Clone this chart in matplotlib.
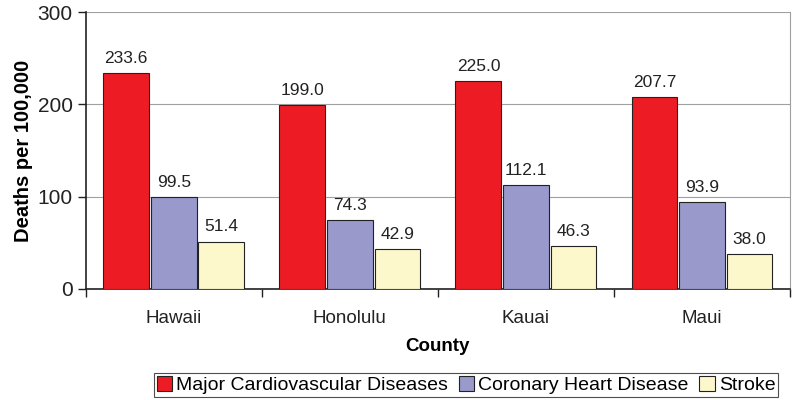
import matplotlib.pyplot as plt
import numpy as np

plt.rcParams['font.family'] = ['Liberation Sans', 'DejaVu Sans']

counties = ['Hawaii', 'Honolulu', 'Kauai', 'Maui']
major_cvd = [233.6, 199.0, 225.0, 207.7]
coronary = [99.5, 74.3, 112.1, 93.9]
stroke = [51.4, 42.9, 46.3, 38.0]

series = [
    ('Major Cardiovascular Diseases', major_cvd, '#ED1C24'),
    ('Coronary Heart Disease', coronary, '#9999CC'),
    ('Stroke', stroke, '#FCF8CC'),
]

fig = plt.figure(figsize=(7.94, 4.0), dpi=100)
ax = fig.add_axes([0.108, 0.2775, 0.887, 0.6925])

x = np.arange(len(counties))
width = 0.26
step = 0.27

for i, (name, vals, color) in enumerate(series):
    pos = x + (i - 1) * step
    bars = ax.bar(pos, vals, width, color=color, edgecolor='#222222',
                  linewidth=0.8, label=name, zorder=3)
    for b, v in zip(bars, vals):
        ax.text(b.get_x() + b.get_width() / 2, v + 8, f'{v:.1f}',
                ha='center', va='bottom', fontsize=12.5, color='#222222')

ax.set_xlim(-0.5, len(counties) - 0.5)
ax.set_ylim(0, 300)
ax.set_yticks([0, 100, 200, 300])
ax.tick_params(axis='y', labelsize=15, length=6, width=1, colors='#222222')
ax.yaxis.grid(True, color='#A0A0A0', linewidth=0.8, zorder=0)

# category labels in the middle, tick marks at category boundaries
ax.set_xticks(x)
ax.set_xticklabels(counties, fontsize=13.5, color='#222222')
ax.tick_params(axis='x', which='major', length=0, pad=15)
ax.set_xticks(np.arange(len(counties) + 1) - 0.5, minor=True)
ax.tick_params(axis='x', which='minor', length=6, width=1, color='#222222')

ax.spines['top'].set_visible(False)
ax.spines['right'].set_color('#A0A0A0')
ax.spines['left'].set_color('#222222')
ax.spines['bottom'].set_color('#222222')
ax.spines['left'].set_linewidth(1.2)
ax.spines['bottom'].set_linewidth(1.2)

ax.set_ylabel('Deaths per 100,000', fontsize=14.5, fontweight='bold', labelpad=3)
ax.set_xlabel('County', fontsize=13.5, fontweight='bold', labelpad=8)

leg = fig.legend(loc='center', bbox_to_anchor=(0.587, 0.0375), ncol=3,
                 fontsize=14, frameon=True, fancybox=False, edgecolor='#222222',
                 handlelength=0.8, handleheight=0.8, handletextpad=0.2,
                 columnspacing=0.55, borderpad=0.15, borderaxespad=0)
leg.get_frame().set_linewidth(0.8)

fig.savefig('out.png', dpi=100)
